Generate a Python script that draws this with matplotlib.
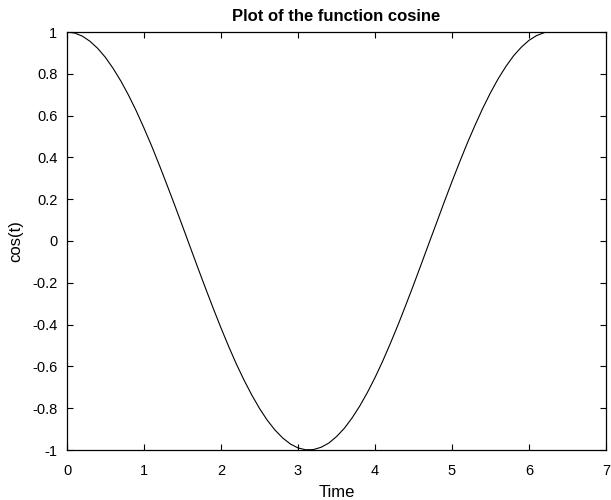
import matplotlib
matplotlib.use("Agg")
import matplotlib.pyplot as plt

# valores (t cada 0.1 s)
t = [0.0, 0.1, 0.2, 0.3, 0.4, 0.5, 0.6, 0.7, 0.8, 0.9,
     1.0, 1.1, 1.2, 1.3, 1.4, 1.5, 1.6, 1.7, 1.8, 1.9,
     2.0, 2.1, 2.2, 2.3, 2.4, 2.5, 2.6, 2.7, 2.8, 2.9,
     3.0, 3.1, 3.2, 3.3, 3.4, 3.5, 3.6, 3.7, 3.8, 3.9,
     4.0, 4.1, 4.2, 4.3, 4.4, 4.5, 4.6, 4.7, 4.8, 4.9,
     5.0, 5.1, 5.2, 5.3, 5.4, 5.5, 5.6, 5.7, 5.8, 5.9,
     6.0, 6.1, 6.2]
y = [1.00, 0.995, 0.98, 0.955, 0.921, 0.878, 0.825, 0.765, 0.697, 0.622,
     0.540, 0.454, 0.362, 0.267, 0.170, 0.071, -0.029, -0.129, -0.227, -0.323,
     -0.416, -0.505, -0.589, -0.666, -0.737, -0.801, -0.857, -0.904, -0.942, -0.971,
     -0.990, -0.999, -0.998, -0.987, -0.967, -0.936, -0.897, -0.848, -0.791, -0.726,
     -0.654, -0.575, -0.490, -0.401, -0.307, -0.211, -0.112, -0.012, 0.087, 0.187,
     0.284, 0.378, 0.469, 0.554, 0.635, 0.709, 0.776, 0.835, 0.886, 0.927,
     0.960, 0.983, 0.997]

xticks = [0, 1, 2, 3, 4, 5, 6, 7]
yticks = [-1, -0.8, -0.6, -0.4, -0.2, 0, 0.2, 0.4, 0.6, 0.8, 1]
yticklabels = ["-1", "-0.8", "-0.6", "-0.4", "-0.2", "0", "0.2", "0.4", "0.6", "0.8", "1"]

plt.rcParams['font.family'] = ['Liberation Sans', 'DejaVu Sans']

fig = plt.figure(figsize=(6.11, 5.00), dpi=100)
ax = fig.add_axes([0.1097, 0.1, 0.882, 0.836])
ax.plot(t, y, color='black', linewidth=0.8)

ax.set_xlim(0, 7)
ax.set_ylim(-1, 1)
ax.set_xticks(xticks)
ax.set_yticks(yticks)
ax.set_yticklabels(yticklabels)
ax.tick_params(direction='in', top=True, right=True, length=4, width=0.8,
               labelsize=10.5)
ax.tick_params(axis='x', pad=10)
ax.tick_params(axis='y', pad=7)
for s in ax.spines.values():
    s.set_linewidth(0.9)

ax.set_title("Plot of the function cosine", fontsize=12, fontweight='bold', pad=8)
ax.set_xlabel("Time", fontsize=12, labelpad=5)
ax.set_ylabel("cos(t)", fontsize=12, labelpad=6)

fig.savefig("out.png", dpi=100)
